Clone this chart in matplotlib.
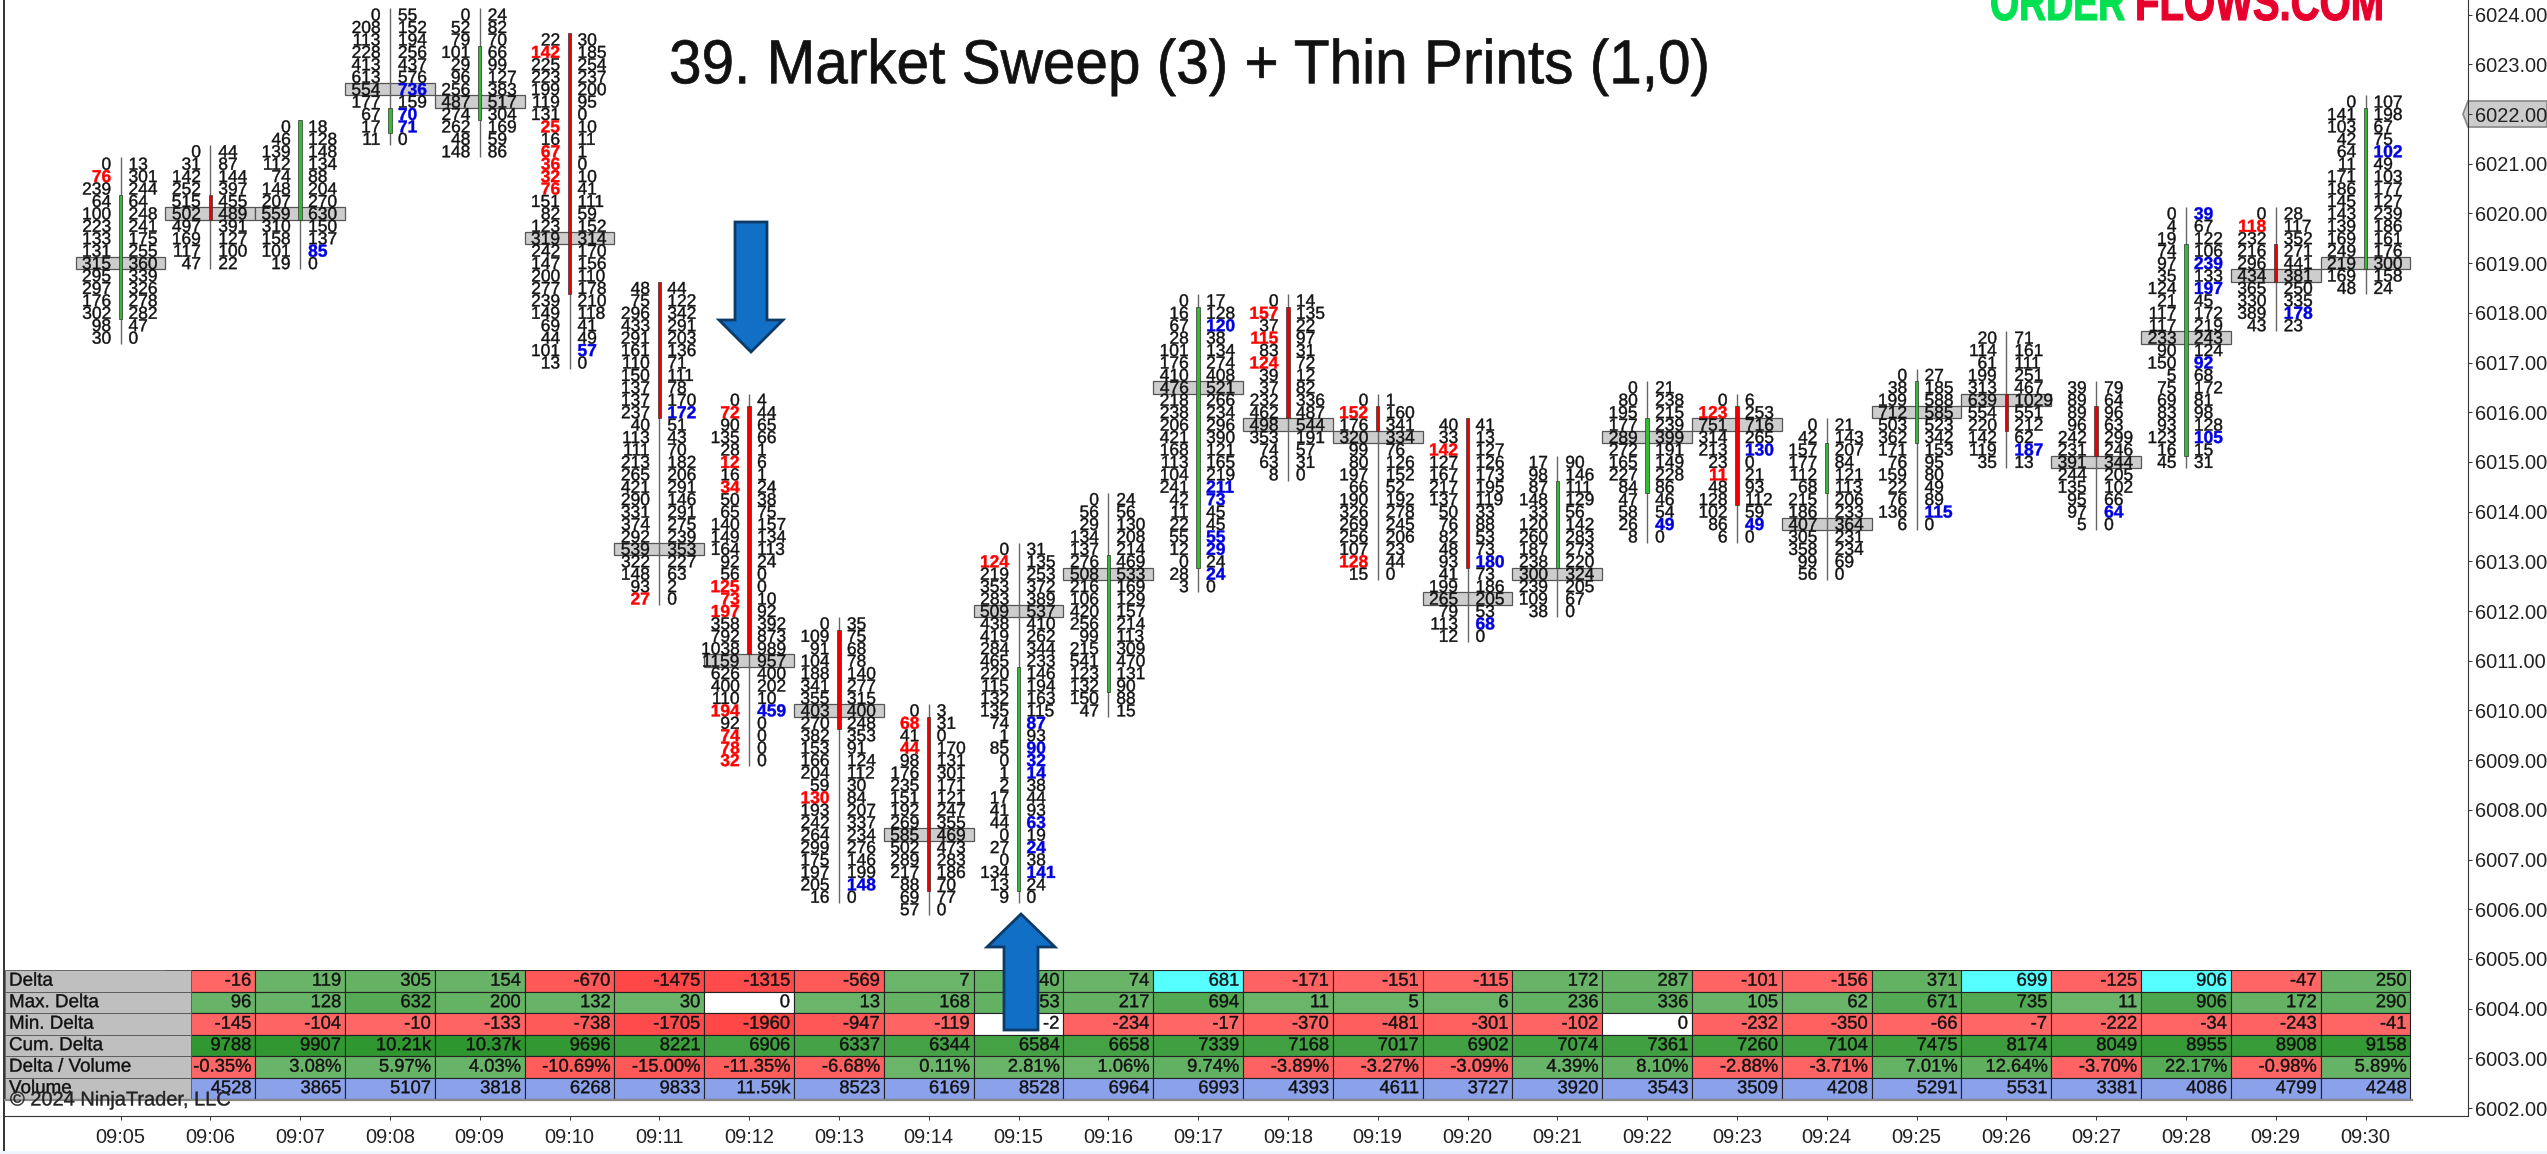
import matplotlib
matplotlib.use("Agg")
import matplotlib.pyplot as plt
from matplotlib.patches import Rectangle, Polygon
from matplotlib.patheffects import AbstractPathEffect
from matplotlib.transforms import Affine2D

W, H, DPI = 2547, 1154, 100
PT = 72 / DPI

times = ["09:05","09:06","09:07","09:08","09:09","09:10","09:11","09:12","09:13","09:14","09:15","09:16","09:17",
         "09:18","09:19","09:20","09:21","09:22","09:23","09:24","09:25","09:26","09:27","09:28","09:29","09:30"]
top_price = [6021.0,6021.25,6021.75,6024.0,6024.0,6023.5,6018.5,6016.25,6011.75,6010.0,6013.25,6014.25,6018.25,
             6018.25,6016.25,6015.75,6015.0,6016.5,6016.25,6015.75,6016.75,6017.5,6016.5,6020.0,6020.0,6022.25]
poc_row = [8,5,7,6,7,16,21,21,7,10,5,6,7,10,3,14,9,4,2,8,3,5,6,10,5,13]
body_up = [1,0,1,1,1,0,0,0,0,0,1,1,1,0,0,0,1,1,0,1,1,0,0,1,0,1]
body_first = [3,4,0,8,3,0,0,1,1,1,10,5,1,1,1,0,2,3,1,2,1,5,2,3,3,1]
body_last = [12,5,7,9,8,20,10,20,8,14,27,15,21,9,2,11,8,8,8,5,5,7,5,19,5,13]

bids = [
 [0,76,239,64,100,223,133,131,315,295,297,176,302,98,30],
 [0,31,142,252,515,502,497,169,117,47],
 [0,46,139,112,74,148,207,559,310,158,101,19],
 [0,208,113,228,413,613,554,177,67,17,11],
 [0,52,79,101,29,96,256,487,274,262,48,148],
 [22,142,225,223,199,119,131,25,16,67,36,32,76,151,82,123,319,242,147,200,277,239,149,69,44,101,13],
 [48,75,296,433,291,161,110,150,137,137,237,40,113,111,213,265,421,290,331,374,292,539,322,148,93,27],
 [0,72,90,135,28,12,16,34,50,65,140,149,164,92,56,125,73,197,358,792,1038,1159,626,400,110,194,92,74,78,32],
 [0,109,91,104,188,341,355,403,270,382,153,166,204,59,130,193,242,264,299,175,197,205,16],
 [0,68,41,44,98,176,235,151,192,269,585,502,289,217,88,69,57],
 [0,124,219,353,283,509,438,419,284,465,220,115,132,135,74,1,85,0,1,2,17,41,44,0,27,0,134,13,9],
 [0,56,29,134,137,276,508,216,106,420,256,99,215,541,123,132,150,47],
 [0,16,67,28,101,176,410,476,218,238,206,421,168,113,104,241,42,11,22,55,12,0,28,3],
 [0,157,37,115,83,124,39,37,232,462,498,353,74,63,8],
 [0,152,176,320,99,80,197,66,190,326,269,256,107,128,15],
 [40,33,142,127,167,217,137,50,76,82,48,93,41,199,265,79,113,12],
 [17,98,87,148,33,120,260,187,238,300,239,109,38],
 [0,80,195,177,289,272,165,227,84,47,58,26,8],
 [0,123,751,314,213,23,11,48,128,102,86,6],
 [0,42,157,177,112,68,215,186,407,305,358,99,56],
 [0,38,199,712,503,362,171,76,159,22,76,136,6],
 [20,114,61,199,313,639,554,220,142,119,35],
 [39,89,89,96,242,231,391,244,135,95,97,5],
 [0,4,19,74,97,35,124,21,117,117,233,90,150,5,75,69,83,93,123,16,45],
 [0,118,232,216,296,434,365,330,389,43],
 [0,141,103,42,64,11,171,186,145,143,139,169,249,219,169,48],
]
asks = [
 [13,301,244,64,248,241,175,255,360,339,326,278,282,47,0],
 [44,87,144,397,455,489,391,127,100,22],
 [18,128,148,134,88,204,270,630,150,137,85,0],
 [55,152,194,256,437,576,736,159,70,71,0],
 [24,82,70,66,99,127,383,517,304,169,59,86],
 [30,185,254,237,200,95,0,10,11,1,0,10,41,111,59,152,314,170,156,110,178,210,118,41,49,57,0],
 [44,122,342,291,203,136,71,111,78,170,172,51,43,70,182,206,291,146,291,275,239,353,227,63,2,0],
 [4,44,65,66,1,6,1,24,38,75,157,134,113,24,0,0,10,92,392,873,989,957,400,202,10,459,0,0,0,0],
 [35,75,68,78,140,277,315,400,248,353,91,124,112,30,84,207,337,234,276,146,199,148,0],
 [3,31,0,170,131,301,171,121,247,355,469,473,283,186,70,77,0],
 [31,135,253,372,389,537,410,262,344,233,146,194,163,115,87,93,90,32,14,38,44,93,63,19,24,38,141,24,0],
 [24,56,130,208,214,469,533,169,129,157,214,113,309,470,131,90,88,15],
 [17,128,120,38,134,274,408,521,266,234,296,390,121,165,219,211,73,45,45,55,29,24,24,0],
 [14,135,22,97,31,72,12,82,336,487,544,191,57,31,0],
 [1,160,341,334,76,126,152,52,192,278,245,206,23,44,0],
 [41,13,127,126,173,195,119,33,88,53,73,180,73,186,205,53,68,0],
 [90,146,111,129,56,142,283,273,220,324,205,67,0],
 [21,238,215,239,399,191,149,228,86,46,54,49,0],
 [6,253,716,265,130,0,21,93,112,59,49,0],
 [21,143,207,84,121,113,206,233,364,231,234,69,0],
 [27,185,588,585,523,342,153,95,80,49,89,115,0],
 [71,161,111,251,467,1029,551,212,62,187,13],
 [79,64,96,63,299,246,344,205,102,66,64,0],
 [39,67,122,106,239,133,197,45,172,219,243,124,92,68,172,81,98,128,105,15,31],
 [28,117,352,271,441,381,250,335,178,23],
 [107,198,67,75,102,49,103,177,127,239,186,161,176,300,158,24],
]
red_rows = [[1],[],[],[],[],[1,7,9,10,11,12],[25],[1,5,7,15,16,17,25,27,28,29],[14],[1,3],[1],[],[],[1,3,5],[1,13],[2],[],[],[1,6],[],[],[],[],[],[1],[]]
blue_rows = [[],[],[10],[6,8,9],[],[25],[10],[25],[21],[],[14,16,17,18,22,24,26],[],[2,15,16,19,20,22],[],[],[11,16],[],[11],[4,10],[],[11],[9],[10],[0,4,6,12,18],[8],[4]]

table_labels = ["Delta","Max. Delta","Min. Delta","Cum. Delta","Delta / Volume","Volume"]
delta = [-16,119,305,154,-670,-1475,-1315,-569,7,240,74,681,-171,-151,-115,172,287,-101,-156,371,699,-125,906,-47,250]
max_delta = [96,128,632,200,132,30,0,13,168,253,217,694,11,5,6,236,336,105,62,671,735,11,906,172,290]
min_delta = [-145,-104,-10,-133,-738,-1705,-1960,-947,-119,-2,-234,-17,-370,-481,-301,-102,0,-232,-350,-66,-7,-222,-34,-243,-41]
cum_delta = [9788,9907,10210,10370,9696,8221,6906,6337,6344,6584,6658,7339,7168,7017,6902,7074,7361,7260,7104,7475,8174,8049,8955,8908,9158]
delta_vol = [-0.35,3.08,5.97,4.03,-10.69,-15.00,-11.35,-6.68,0.11,2.81,1.06,9.74,-3.89,-3.27,-3.09,4.39,8.10,-2.88,-3.71,7.01,12.64,-3.70,22.17,-0.98,5.89]
volume = [4528,3865,5107,3818,6268,9833,11590,8523,6169,8528,6964,6993,4393,4611,3727,3920,3543,3509,4208,5291,5531,3381,4086,4799,4248]
highlight_delta = [681,699,906]


class Glyphs(AbstractPathEffect):
    """Draw the real text with a small outline and an optional stretch about its origin."""
    def __init__(self, stroke=0.0, sx=1.0, sy=1.0, cap=71.6):
        super().__init__()
        self.stroke, self.sx, self.sy, self.cap = stroke, sx, sy, cap

    def draw_path(self, renderer, gc, tpath, affine, rgbFace=None):
        a = Affine2D().scale(self.sx, self.sy).translate(0, -(self.sy - 1) * self.cap / 2) + affine
        g = renderer.new_gc()
        g.copy_properties(gc)
        g.set_linewidth(self.stroke)
        if self.stroke > 0:
            g.set_foreground(rgbFace)
        renderer.draw_path(g, tpath, a, rgbFace)
        g.restore()


HEAVY = [Glyphs(stroke=0.28)]
plt.rcParams['font.family'] = ['Liberation Sans', 'DejaVu Sans']
fig = plt.figure(figsize=(W / DPI, H / DPI), dpi=DPI, facecolor='white')
px = Affine2D().scale(1, -1).translate(0, H)


def rect_px(x0, y0, x1, y1):
    return [x0 / W, 1 - y1 / H, (x1 - x0) / W, (y1 - y0) / H]


AX_L, AX_R, AX_T, AX_B = 4, 2468, 0, 1116
X0, DX = 120.5, 89.8
Y0, DY = 114.0, 49.7
ax = fig.add_axes(rect_px(AX_L, AX_T, AX_R, AX_B))
ax.set_xlim((AX_L - X0) / DX, (AX_R - X0) / DX)
ax.set_ylim(6022 - (AX_B - Y0) / DY, 6022 + (Y0 - AX_T) / DY)
TICK = 0.25
FOOT_FS = 17.4 * PT

for i in range(len(times)):
    top = top_price[i]
    n = len(bids[i])
    bottom = top - (n - 1) * TICK
    py = top - poc_row[i] * TICK
    ax.add_patch(Rectangle((i - 0.5, py - TICK / 2), 1.0, TICK, fc='#cdcdcd', ec='#555555', lw=0.9, zorder=2))
    ax.vlines(i, bottom - TICK / 2, top + TICK / 2, color='#666666', lw=1.0, zorder=3)
    b0 = top - body_first[i] * TICK + TICK / 2
    b1 = top - body_last[i] * TICK - TICK / 2
    ax.add_patch(Rectangle((i - 0.019, b1), 0.038, b0 - b1,
                           fc='#33bb33' if body_up[i] else '#ee0000', ec='#333333', lw=0.5, zorder=3.5))
    for k in range(n):
        p = top - k * TICK
        red = k in red_rows[i]
        blue = k in blue_rows[i]
        ax.text(i - 9.4 / DX, p, str(bids[i][k]), ha='right', va='center_baseline', fontsize=FOOT_FS, zorder=4,
                color='#ff0000' if red else '#111111', fontweight='bold' if red else 'normal', path_effects=HEAVY)
        ax.text(i + 8.0 / DX, p, str(asks[i][k]), ha='left', va='center_baseline', fontsize=FOOT_FS, zorder=4,
                color='#0000e0' if blue else '#111111', fontweight='bold' if blue else 'normal', path_effects=HEAVY)

ax.set_xticks(range(len(times)))
ax.set_xticklabels(times, fontsize=20 * PT, color='#222222')
prices = [6002 + j for j in range(23)]
ax.yaxis.tick_right()
ax.set_yticks(prices)
ax.set_yticklabels([f"{p:.2f}" for p in prices], fontsize=20 * PT, color='#222222')
ax.tick_params(axis='x', length=4 * PT, width=0.7, color='#333333', pad=5.5)
ax.tick_params(axis='y', length=4 * PT, width=0.7, color='#333333', pad=2)
ax.spines['top'].set_visible(False)
ax.spines['left'].set_linewidth(1.4)
for s in ('left', 'right', 'bottom'):
    ax.spines[s].set_color('#333333')

ax.add_patch(Polygon([(2468, 101), (2547, 101), (2547, 127), (2468, 127), (2463, 114)], closed=True,
                     transform=px, fc='#cccccc', ec='#888888', lw=1.2, clip_on=False, zorder=1))

TBL_T, TBL_B = 970, 1099
tax = fig.add_axes(rect_px(AX_L, TBL_T, AX_R, TBL_B))
tax.set_xlim(ax.get_xlim())
tax.set_ylim(6, 0)
tax.axis('off')
tax.patch.set_visible(False)


def kfmt(v):
    return f"{v / 1000:.2f}k" if abs(v) >= 10000 else str(v)


rows = [delta, max_delta, min_delta, cum_delta, delta_vol, volume]
fmts = [str, str, str, kfmt, lambda v: f"{v:.2f}%", kfmt]
gains = [0.12, 0.12, 0.12, 0.24, 0.08, 0.0]


def blend(c, a):
    return tuple(a * x + (1 - a) * 1.0 for x in c)


for r, (vals, fmt, g) in enumerate(zip(rows, fmts, gains)):
    vmax = max(abs(v) for v in vals)
    for j, v in enumerate(vals):
        i = j + 1
        if r == 5:
            fc = '#8ba1ea'
        elif r == 0 and v in highlight_delta:
            fc = '#55ffff'
        elif r in (1, 2) and abs(v) < 3:
            fc = 'white'
        else:
            a = 0.58 + g * abs(v) / vmax
            fc = blend((0, 0.5, 0), a) if v > 0 else blend((1, 0, 0), a + 0.02)
        tax.add_patch(Rectangle((i - 0.5, r), 1.0, 1.0, fc=fc, ec='#222222', lw=0.8, zorder=1))
        tax.text(i + 0.5 - 4 / DX, r + 0.52, fmt(v), ha='right', va='center', fontsize=18.4 * PT, color='#111111',
                 zorder=2, path_effects=HEAVY)
    tax.add_patch(Rectangle((tax.get_xlim()[0] + 1 / DX, r), (191.4 - AX_L - 1) / DX, 1.0, fc='#bfbfbf', ec='#555555', lw=0.6, zorder=3))
    tax.text(tax.get_xlim()[0] + 5 / DX, r + 0.52, table_labels[r], ha='left', va='center', fontsize=18.8 * PT,
             color='#111111', zorder=4, path_effects=HEAVY)
fig.add_artist(plt.Line2D([5, 2412], [1099.5, 1099.5], transform=px, color='#888888', lw=1.6, zorder=3))

fig.add_artist(plt.Line2D([4, 4], [1116, 1152], transform=px, color='#333333', lw=1.4, zorder=3))
fig.add_artist(Rectangle((0, 1151), W, 3, transform=px, fc='#eef6fc', ec='none', zorder=3))

ARROW_FC, ARROW_EC = '#116fc6', '#0e3a66'
fig.add_artist(Polygon([(735, 222), (767, 222), (767, 320), (783, 320), (751, 352), (719, 320), (735, 320)], closed=True,
                       transform=px, fc=ARROW_FC, ec=ARROW_EC, lw=2, zorder=6))
fig.add_artist(Polygon([(1004, 1030), (1038, 1030), (1038, 947), (1055, 947), (1021, 914), (987, 947), (1004, 947)], closed=True,
                       transform=px, fc=ARROW_FC, ec=ARROW_EC, lw=2, zorder=6))

fig.text(669 / W, 1 - 67 / H, "39. Market Sweep (3) + Thin Prints (1,0)", ha='left', va='center',
         fontsize=58.5 * PT, color='#111111', zorder=7, path_effects=[Glyphs(sy=1.06, stroke=0.5)])
fig.text(10 / W, 1 - 1100 / H, "\u00a9 2024 NinjaTrader, LLC", ha='left', va='center', fontsize=20 * PT,
         color='#222222', zorder=7, path_effects=HEAVY)
fig.text(1990 / W, 1 - 20 / H, "ORDER", ha='left', va='baseline', fontsize=52 * PT, fontweight='bold',
         color='#00e050', zorder=7, path_effects=[Glyphs(sx=0.72, stroke=0.8)])
fig.text(2135 / W, 1 - 20 / H, "FLOWS.COM", ha='left', va='baseline', fontsize=52 * PT, fontweight='bold',
         color='#e8002d', zorder=7, path_effects=[Glyphs(sx=0.77, stroke=0.8)])

fig.savefig("out.png", dpi=DPI)
